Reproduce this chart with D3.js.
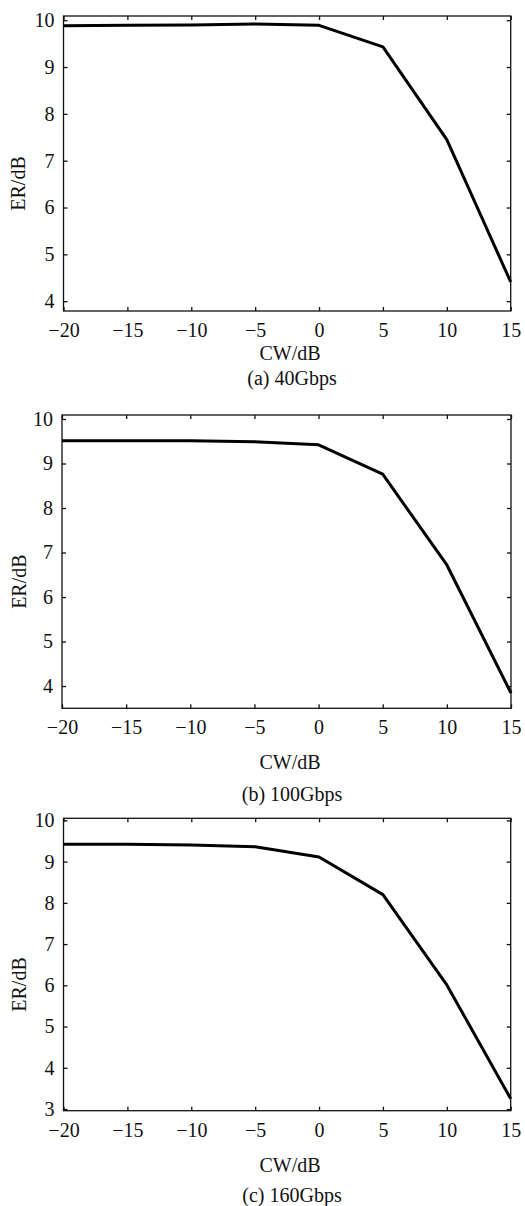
<!DOCTYPE html>
<html>
<head>
<meta charset="utf-8">
<script src="https://cdn.jsdelivr.net/npm/d3@7"></script>
<style>
  body { margin: 0; background: #fff; }
  svg { display: block; }
  text { font-family: "Liberation Serif", "Times New Roman", serif; fill: #111; }
</style>
</head>
<body>
<svg id="chart" width="525" height="1206"></svg>
<script>
// x values shared by all three panels
const cw = [-20, -15, -10, -5, 0, 5, 10, 15]
const xTicks = [-20, -15, -10, -5, 0, 5, 10, 15]

// ER values
const er40 = [9.88, 9.89, 9.90, 9.92, 9.89, 9.43, 7.45, 4.41]
const er100 = [9.51, 9.51, 9.51, 9.49, 9.42, 8.76, 6.72, 3.84]
const er160 = [9.42, 9.42, 9.40, 9.36, 9.11, 8.20, 6.01, 3.25]

const yTicksA = [4, 5, 6, 7, 8, 9, 10]
const yTicksB = [4, 5, 6, 7, 8, 9, 10]
const yTicksC = [3, 4, 5, 6, 7, 8, 9, 10]

const captions = ["(a) 40Gbps", "(b) 100Gbps", "(c) 160Gbps"]

const svg = d3.select("#chart")
const FONT = "Liberation Serif, Times New Roman, serif"

// panel boxes (layout only)
const panels = [
  { values: er40, yTicks: yTicksA, yDomain: [3.79, 10.09], caption: captions[0],
    left: 63.5, right: 510.7, top: 16, bottom: 311, xLabelY: 353, titleY: 378, yLabelX: 18 },
  { values: er100, yTicks: yTicksB, yDomain: [3.5, 10.09], caption: captions[1],
    left: 62, right: 511, top: 415, bottom: 708.3, xLabelY: 762, titleY: 794, yLabelX: 19 },
  { values: er160, yTicks: yTicksC, yDomain: [2.96, 10.05], caption: captions[2],
    left: 63.5, right: 510.7, top: 818.3, bottom: 1110.7, xLabelY: 1165, titleY: 1195, yLabelX: 19 },
]

const styleAxis = sel => {
  sel.attr("font-family", FONT).attr("font-size", 20)
  sel.selectAll("line").attr("stroke", "#111").attr("stroke-width", 1.3)
  sel.selectAll("text").attr("fill", "#111")
  sel.select(".domain").remove()
}

const fmt = d => (d < 0 ? "\u2212" + Math.abs(d) : String(d))

const drawPanel = p => {
  const w = p.right - p.left
  const h = p.bottom - p.top
  const x = d3.scaleLinear().domain([-20, 15]).range([0, w])
  const y = d3.scaleLinear().domain(p.yDomain).range([h, 0])

  const g = svg.append("g").attr("transform", `translate(${p.left},${p.top})`)

  // frame
  g.append("rect")
    .attr("width", w).attr("height", h)
    .attr("fill", "none").attr("stroke", "#111").attr("stroke-width", 1.3)

  // inward ticks on all four sides, labels on bottom and left
  g.append("g")
    .attr("transform", `translate(0,${h})`)
    .call(d3.axisBottom(x).tickValues(xTicks).tickSizeInner(-4).tickSizeOuter(0).tickPadding(12).tickFormat(fmt))
    .call(styleAxis)
  g.append("g")
    .call(d3.axisTop(x).tickValues(xTicks).tickSizeInner(-4).tickSizeOuter(0).tickFormat(""))
    .call(styleAxis)
  g.append("g")
    .call(d3.axisLeft(y).tickValues(p.yTicks).tickSizeInner(-4).tickSizeOuter(0).tickPadding(9).tickFormat(fmt))
    .call(styleAxis)
  g.append("g")
    .attr("transform", `translate(${w},0)`)
    .call(d3.axisRight(y).tickValues(p.yTicks).tickSizeInner(-4).tickSizeOuter(0).tickFormat(""))
    .call(styleAxis)

  // curve
  const line = d3.line().x((d, i) => x(cw[i])).y(d => y(d))
  g.append("path")
    .datum(p.values)
    .attr("d", line)
    .attr("fill", "none")
    .attr("stroke", "#000")
    .attr("stroke-width", 3)
    .attr("stroke-linejoin", "round")

  // labels
  svg.append("text")
    .attr("x", 290).attr("y", p.xLabelY)
    .attr("dy", "0.35em")
    .attr("text-anchor", "middle")
    .style("font-size", "20px")
    .text("CW/dB")
  svg.append("text")
    .attr("transform", `translate(${p.yLabelX},${(p.top + p.bottom) / 2 + 20}) rotate(-90)`)
    .attr("dy", "0.35em")
    .attr("text-anchor", "middle")
    .style("font-size", "20px")
    .text("ER/dB")
  svg.append("text")
    .attr("x", 292).attr("y", p.titleY)
    .attr("dy", "0.35em")
    .attr("text-anchor", "middle")
    .style("font-size", "20px")
    .text(p.caption)
}

panels.forEach(drawPanel)
</script>
</body>
</html>
